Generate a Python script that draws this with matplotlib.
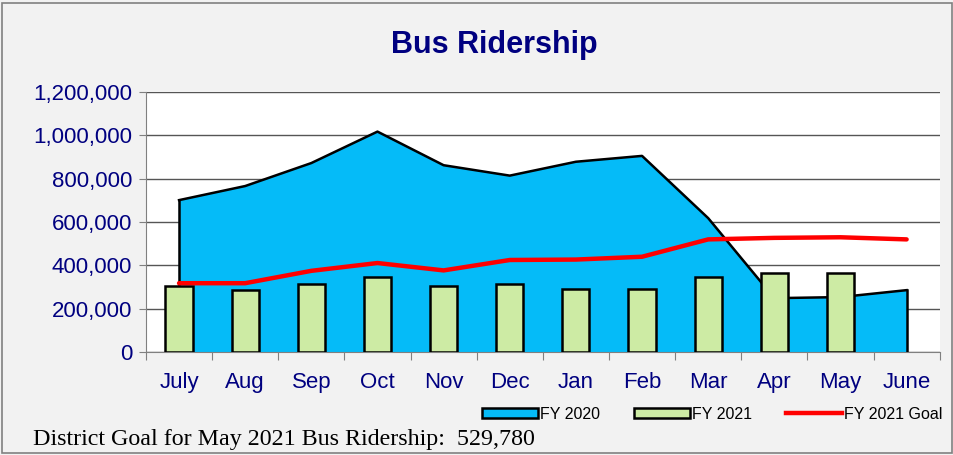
import matplotlib.pyplot as plt
from matplotlib.patches import Rectangle
from matplotlib.lines import Line2D
from matplotlib.ticker import FuncFormatter

months = ["July", "Aug", "Sep", "Oct", "Nov", "Dec", "Jan", "Feb", "Mar", "Apr", "May", "June"]
fy2020 = [701000, 766000, 872000, 1017000, 862000, 814000, 878000, 905000, 618000, 249000, 254000, 286000]
fy2021 = [306000, 286000, 315000, 346000, 304000, 314000, 289000, 292000, 346000, 366000, 366000]
goal = [318000, 318000, 375000, 411000, 377000, 425000, 427000, 440000, 520000, 527000, 529780, 520000]

navy = "#000080"
plt.rcParams['font.family'] = ['Liberation Sans', 'DejaVu Sans']

fig = plt.figure(figsize=(9.54, 4.55), dpi=100, facecolor="#F2F2F2")
fig.patches.append(Rectangle((0.002, 0.004), 0.996, 0.99, transform=fig.transFigure,
                             fill=False, edgecolor="#808080", lw=1.2))
ax = fig.add_axes([0.153, 0.226, 0.832, 0.572])
ax.set_facecolor("white")

x = list(range(len(months)))
ax.fill_between(x, fy2020, 0, color="#05BBF8", zorder=2)
ax.plot(x, fy2020, color="black", lw=1.8, zorder=3)
ax.plot([0, 0], [0, fy2020[0]], color="black", lw=1.8, zorder=3)
ax.plot([11, 11], [0, fy2020[-1]], color="black", lw=1.8, zorder=3)

ax.bar(x[:len(fy2021)], fy2021, width=0.41, color="#CDEBA4", edgecolor="black", lw=1.8, zorder=4)
ax.plot(x, goal, color="#FF0000", lw=3.2, solid_capstyle="round", zorder=5)

ax.set_xlim(-0.5, 11.5)
ax.set_ylim(0, 1200000)
ax.set_yticks(range(0, 1200001, 200000))
ax.yaxis.set_major_formatter(FuncFormatter(lambda v, p: f"{int(v):,}"))
ax.grid(axis="y", color="#555555", lw=1, zorder=1)
ax.set_axisbelow(True)

ax.set_xticks([i - 0.5 for i in range(13)], minor=False)
ax.set_xticklabels([])
ax.set_xticks(x, minor=True)
ax.set_xticklabels(months, minor=True)
ax.tick_params(axis="x", which="major", length=6, color="#808080", direction="out")
ax.tick_params(axis="x", which="minor", length=0, pad=14, labelsize=16, labelcolor=navy)
ax.tick_params(axis="y", length=5, color="#808080", labelsize=16, labelcolor=navy, pad=5)
for s in ["top", "right"]:
    ax.spines[s].set_visible(False)
ax.spines["left"].set_color("#808080")
ax.spines["bottom"].set_color("#808080")

fig.text(0.518, 0.9, "Bus Ridership", ha="center", va="center", fontsize=22,
         fontweight="bold", color=navy)

handles = [Rectangle((0, 0), 1, 1, facecolor="#05BBF8", edgecolor="black", lw=1.8),
           Rectangle((0, 0), 1, 1, facecolor="#CDEBA4", edgecolor="black", lw=1.8),
           Line2D([], [], color="#FF0000", lw=3.2)]
fig.legend(handles, ["FY 2020", "FY 2021", "FY 2021 Goal"], loc="center right",
           bbox_to_anchor=(1.003, 0.09), ncol=3, frameon=False, fontsize=11.5,
           handlelength=3.5, handleheight=0.6, handletextpad=0.15, columnspacing=2.1)

fig.text(0.035, 0.035, "District Goal for May 2021 Bus Ridership:  529,780",
         fontsize=17.3, family=["Liberation Serif", "DejaVu Serif"], va="center")

fig.savefig("out.png", dpi=100, facecolor=fig.get_facecolor())
